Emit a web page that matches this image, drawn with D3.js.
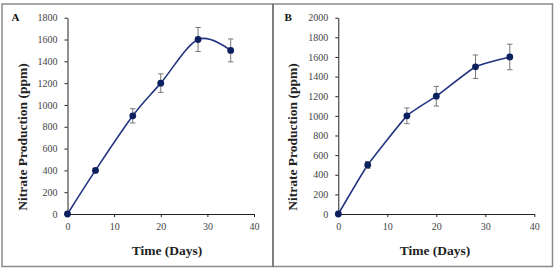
<!DOCTYPE html>
<html>
<head>
<meta charset="utf-8">
<script src="https://cdn.jsdelivr.net/npm/d3@7"></script>
<style>
  body { margin: 0; background: #fff; }
  svg { display: block; }
  text { font-family: "Liberation Serif", "Times New Roman", serif; }
</style>
</head>
<body>
<svg id="chart" width="555" height="268"></svg>
<script>
// data
const days = [0, 6, 14, 20, 28, 35];
const nitrateA = [0, 400, 900, 1200, 1600, 1500];
const errA = [0, 15, 65, 85, 110, 105];
const nitrateB = [0, 500, 1000, 1200, 1500, 1600];
const errB = [0, 35, 80, 100, 120, 130];
const xTicks = [0, 10, 20, 30, 40];
const yTicksA = d3.range(0, 1801, 200);
const yTicksB = d3.range(0, 2001, 200);

const svg = d3.select("#chart");

// outer frame and divider
svg.append("rect")
  .attr("x", 2).attr("y", 4).attr("width", 550.5).attr("height", 262.5)
  .attr("fill", "none").attr("stroke", "#8a8a8a").attr("stroke-width", 1.5);
svg.append("line")
  .attr("x1", 273).attr("x2", 273).attr("y1", 4).attr("y2", 266.5)
  .attr("stroke", "#555").attr("stroke-width", 1.5);

function drawPanel(opts) {
  const x = d3.scaleLinear().domain([0, 40]).range([opts.x0, opts.x1]);
  const y = d3.scaleLinear().domain([0, opts.ymax]).range([214, 17.7]);
  const g = svg.append("g");

  // axes
  const xAxis = g.append("g")
    .attr("transform", "translate(0,214)")
    .call(d3.axisBottom(x).tickValues(xTicks).tickFormat(d3.format("d"))
      .tickSize(3).tickPadding(6).tickSizeOuter(0));
  const yAxis = g.append("g")
    .attr("transform", "translate(" + opts.x0 + ",0)")
    .call(d3.axisLeft(y).tickValues(opts.yTicks).tickFormat(d3.format("d"))
      .tickSize(3).tickPadding(7).tickSizeOuter(0));

  [xAxis, yAxis].forEach(a => {
    a.select(".domain").attr("stroke", "#222").attr("stroke-width", 1);
    a.selectAll(".tick line").attr("stroke", "#222");
    a.selectAll("text")
      .attr("font-size", 10)
      .attr("fill", "#444");
  });

  const pts = days.map((d, i) => ({ d: d, v: opts.values[i], e: opts.errs[i] }));

  // line (smoothed like the spreadsheet original)
  const line = d3.line()
    .x(p => x(p.d))
    .y(p => y(p.v))
    .curve(d3.curveCardinal.tension(opts.tension));
  g.append("path")
    .datum(pts)
    .attr("d", line)
    .attr("fill", "none")
    .attr("stroke", "#24347f")
    .attr("stroke-width", 1.6);

  // error bars
  const eb = g.selectAll(".err").data(pts.filter(p => p.e > 0)).enter().append("g");
  eb.append("line")
    .attr("x1", p => x(p.d)).attr("x2", p => x(p.d))
    .attr("y1", p => y(p.v - p.e)).attr("y2", p => y(p.v + p.e))
    .attr("stroke", "#777").attr("stroke-width", 1);
  [1, -1].forEach(s => {
    eb.append("line")
      .attr("x1", p => x(p.d) - 2.7).attr("x2", p => x(p.d) + 2.7)
      .attr("y1", p => y(p.v + s * p.e)).attr("y2", p => y(p.v + s * p.e))
      .attr("stroke", "#777").attr("stroke-width", 1);
  });

  // markers
  g.selectAll(".dot").data(pts).enter().append("circle")
    .attr("cx", p => x(p.d))
    .attr("cy", p => y(p.v))
    .attr("r", 3.4)
    .attr("fill", "#0c1f5e");

  // titles
  g.append("text")
    .attr("x", opts.titleX).attr("y", 255)
    .attr("text-anchor", "middle")
    .attr("font-weight", "bold").attr("font-size", 13.5).attr("fill", "#222")
    .text("Time (Days)");
  g.append("text")
    .attr("transform", "translate(" + (opts.x0 - 41) + "," + 137 + ") rotate(-90)")
    .attr("text-anchor", "middle")
    .attr("font-weight", "bold").attr("font-size", 13.5).attr("fill", "#222")
    .text("Nitrate Production (ppm)");
  g.append("text")
    .attr("x", opts.labelX).attr("y", 20.5)
    .attr("font-weight", "bold").attr("font-size", 11).attr("fill", "#111")
    .text(opts.label);
}

drawPanel({ label: "A", labelX: 11.5, x0: 67.5, x1: 254, ymax: 1800, yTicks: yTicksA,
  values: nitrateA, errs: errA, titleX: 167, tension: 0 });
drawPanel({ label: "B", labelX: 284.5, x0: 338.3, x1: 534.3, ymax: 2000, yTicks: yTicksB,
  values: nitrateB, errs: errB, titleX: 435, tension: 0.6 });
</script>
</body>
</html>
